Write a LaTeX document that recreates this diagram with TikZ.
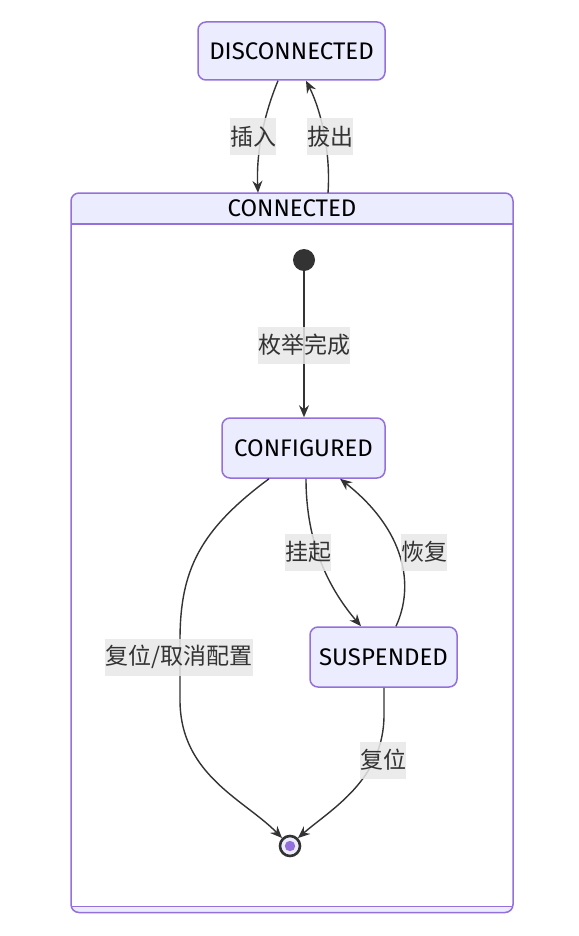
\documentclass[tikz,border=0pt]{standalone}
\usepackage{fontspec}
\setmainfont{Fira Sans}
\newfontfamily\cjk{Noto Sans CJK SC}
\usetikzlibrary{arrows.meta,calc}
\definecolor{mpurple}{HTML}{9370DB}
\definecolor{boxfill}{HTML}{ECECFF}
\definecolor{edgecol}{HTML}{333333}
\definecolor{lblbg}{HTML}{E8E8E8}
\tikzset{
  statebox/.style={draw=mpurple, fill=boxfill, line width=1.5pt, rounded corners=8pt, font=\fontsize{24}{28}\selectfont, text=black},
  conn/.style={draw=edgecol, line width=1.4pt, -{Stealth[length=12pt,width=10pt,inset=4pt]}},
  lbl/.style={fill=lblbg, fill opacity=0.85, text opacity=1, text=edgecol, inner xsep=0pt, inner ysep=0pt, minimum height=37pt, font=\cjk\fontsize{23}{26}\selectfont}
}
\begin{document}
\begin{tikzpicture}[x=1pt,y=-1pt]
\useasboundingbox (0,0) rectangle (578,936);
% composite state
\node[draw=none, minimum width=442pt, minimum height=719.5pt, inner sep=0pt] (cn) at (292,552.75) {};
\fill[boxfill, rounded corners=8pt] (71,193) rectangle (513,912.5);
\fill[white] (71,224) rectangle (513,906.5);
\draw[draw=mpurple, line width=1.5pt, rounded corners=8pt] (71,193) rectangle (513,912.5);
\draw[draw=mpurple, line width=1.5pt] (71,224) -- (513,224);
\draw[draw=mpurple, line width=1.5pt] (71,906.5) -- (513,906.5);
\node[font=\fontsize{24}{28}\selectfont, text=black] (cntitle) at (292,208.5) {CONNECTED};
% states
\node[statebox, minimum width=187pt, minimum height=58pt] (dis) at (291.5,51) {DISCONNECTED};
\node[statebox, minimum width=163pt, minimum height=60pt] (cfg) at (303.5,448) {CONFIGURED};
\node[statebox, minimum width=147pt, minimum height=60pt] (sus) at (383.5,657) {SUSPENDED};
\node[circle, fill=edgecol, minimum size=22pt, inner sep=0pt] (start) at (304,260) {};
\node[circle, draw=edgecol, fill=boxfill, line width=2.6pt, minimum size=20pt, inner sep=0pt] (end) at (290,846) {};
\fill[fill=mpurple] (end.center) circle (5.2pt);
% edges
\draw[conn] ([xshift=-13.5pt]dis.south) .. controls (265,112) and (256,150) .. ([xshift=-34pt]cn.north);
\draw[conn] ([xshift=36pt]cn.north) .. controls (331,150) and (320,108) .. ([xshift=14.5pt]dis.south);
\draw[conn] (start.south) -- ([xshift=0.5pt]cfg.north);
\draw[conn] ([xshift=2.5pt]cfg.south) .. controls (306,545) and (330,590) .. ([xshift=-22.5pt]sus.north);
\draw[conn] ([xshift=12.5pt]sus.north) .. controls (415,585) and (405,530) .. ([xshift=36.5pt]cfg.south);
\draw[conn] ([xshift=-34.5pt]cfg.south) .. controls (200,530) and (180,570) .. (180,640) -- (180,700) .. controls (180,775) and (245,800) .. (end.135);
\draw[conn] ([xshift=0.5pt]sus.south) -- (384,715) .. controls (384,780) and (330,810) .. (end.45);
% labels
\node[lbl] (l1) at (253,137) {插入};
\node[lbl] (l2) at (330,137) {拔出};
\node[lbl] (l3) at (304,345) {枚举完成};
\node[lbl] (l4) at (308,552) {挂起};
\node[lbl] (l5) at (424,552) {恢复};
\node[lbl] (l6) at (179,657) {复位/取消配置};
\node[lbl] (l7) at (383,760) {复位};
\end{tikzpicture}
\end{document}
